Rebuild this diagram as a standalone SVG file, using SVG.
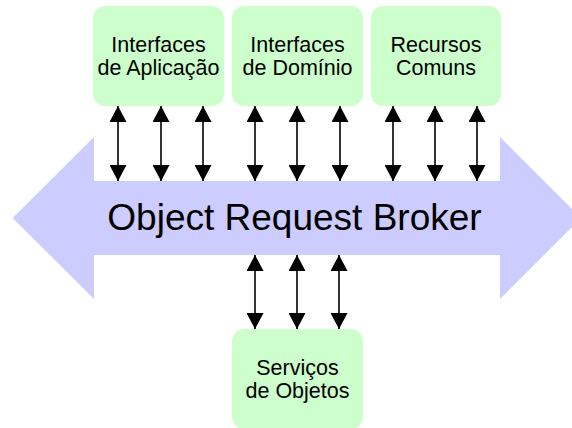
<svg xmlns="http://www.w3.org/2000/svg" width="572" height="428" viewBox="0 0 572 428">
  <style>
    .box { fill: #ccffcc; }
    .lbl { font-family: "Liberation Sans", Arial, sans-serif; font-size: 21.5px; fill: #000; text-anchor: middle; }
    .bus { fill: #ccccff; }
    .busText { font-family: "Liberation Sans", Arial, sans-serif; font-size: 37px; fill: #000; text-anchor: middle; }
    .link { stroke: #000; stroke-width: 1.6; fill: none; marker-start: url(#head); marker-end: url(#head); }
  </style>
  <defs>
    <marker id="head" viewBox="0 0 16 17" refX="16" refY="8.5" markerWidth="16" markerHeight="17" markerUnits="userSpaceOnUse" orient="auto-start-reverse">
      <path d="M0,0 L16,8.5 L0,17 Z" fill="#000"/>
    </marker>
  </defs>

  <rect width="572" height="428" fill="#ffffff"/>

  <!-- central bus: double-headed wide arrow -->
  <g id="orb">
    <path class="bus" d="M12.7,218 L94,137 L94,181 L500,181 L500,137 L581,218 L500,299 L500,255 L94,255 L94,299 Z"/>
    <text class="busText" x="294.5" y="229.5">Object Request Broker</text>
  </g>

  <g id="app-interfaces">
    <rect class="box" x="93" y="6" width="131" height="100" rx="12"/>
    <text class="lbl" x="158.5" y="52">Interfaces</text>
    <text class="lbl" x="158.5" y="75">de Aplicação</text>
  </g>

  <g id="domain-interfaces">
    <rect class="box" x="232" y="6" width="131" height="100" rx="12"/>
    <text class="lbl" x="297.5" y="52">Interfaces</text>
    <text class="lbl" x="297.5" y="75">de Domínio</text>
  </g>

  <g id="common-facilities">
    <rect class="box" x="371" y="6" width="130" height="100" rx="12"/>
    <text class="lbl" x="436" y="52">Recursos</text>
    <text class="lbl" x="436" y="75">Comuns</text>
  </g>

  <g id="object-services">
    <rect class="box" x="232" y="329" width="131" height="100" rx="12"/>
    <text class="lbl" x="297.5" y="375">Serviços</text>
    <text class="lbl" x="297.5" y="398">de Objetos</text>
  </g>

  <g id="connectors">
    <line class="link" x1="118" y1="106" x2="118" y2="181"/>
    <line class="link" x1="161" y1="106" x2="161" y2="181"/>
    <line class="link" x1="203" y1="106" x2="203" y2="181"/>
    <line class="link" x1="255" y1="106" x2="255" y2="181"/>
    <line class="link" x1="297" y1="106" x2="297" y2="181"/>
    <line class="link" x1="340" y1="106" x2="340" y2="181"/>
    <line class="link" x1="393" y1="106" x2="393" y2="181"/>
    <line class="link" x1="435" y1="106" x2="435" y2="181"/>
    <line class="link" x1="477" y1="106" x2="477" y2="181"/>
    <line class="link" x1="255" y1="255" x2="255" y2="329"/>
    <line class="link" x1="297" y1="255" x2="297" y2="329"/>
    <line class="link" x1="339" y1="255" x2="339" y2="329"/>
  </g>
</svg>
